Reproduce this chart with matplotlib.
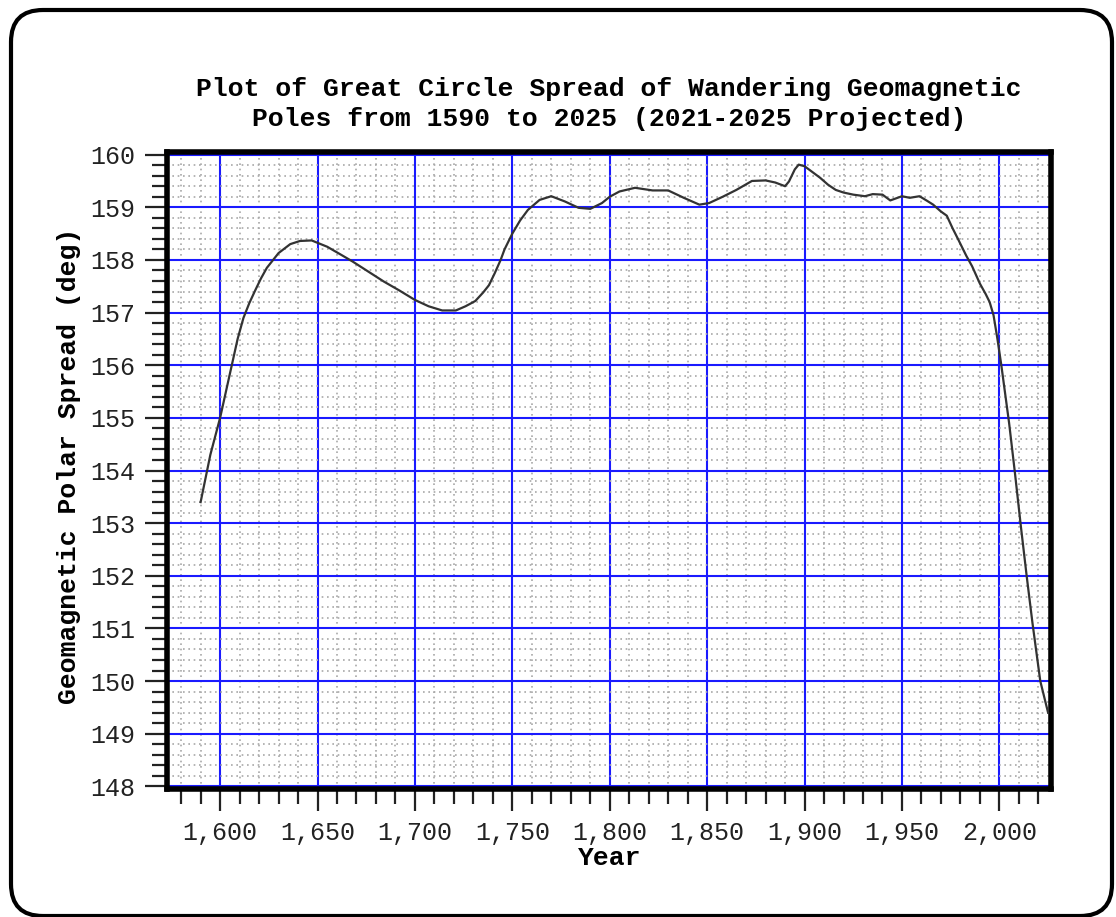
import matplotlib.pyplot as plt
import matplotlib.ticker as mticker
from matplotlib.patches import FancyBboxPatch
from matplotlib.transforms import IdentityTransform

# Datos (año, separacion en grados)
years = [1590, 1595, 1600, 1606, 1609, 1612, 1615, 1618, 1621, 1624,
         1630, 1636, 1641, 1647, 1655, 1662, 1668, 1676, 1684, 1692,
         1700, 1707, 1714, 1721, 1726, 1731, 1735, 1738, 1741, 1744,
         1746, 1750, 1754, 1758, 1764, 1770, 1777, 1784, 1790, 1796,
         1800, 1805, 1813, 1822, 1830, 1838, 1846, 1851, 1858, 1865,
         1873, 1880, 1885, 1890, 1892, 1895, 1897, 1900, 1904, 1908,
         1912, 1916, 1920, 1925, 1931, 1935, 1940, 1944, 1947, 1950,
         1954, 1959, 1963, 1966, 1970, 1973, 1976, 1979, 1983, 1986,
         1990, 1993, 1995, 1997, 1999, 2001, 2005, 2008, 2011, 2014,
         2017, 2021, 2025]
spread = [153.4, 154.3, 155.0, 156.0, 156.5, 156.9, 157.18, 157.42, 157.65, 157.85,
          158.13, 158.3, 158.36, 158.37, 158.25, 158.1, 157.97, 157.78, 157.59, 157.42,
          157.24, 157.12, 157.04, 157.04, 157.12, 157.22, 157.38, 157.52, 157.75, 158.0,
          158.2, 158.5, 158.75, 158.95, 159.14, 159.21, 159.11, 158.99, 158.97, 159.08,
          159.2, 159.3, 159.37, 159.32, 159.32, 159.18, 159.05, 159.08, 159.2, 159.33,
          159.5, 159.51, 159.47, 159.4, 159.49, 159.72, 159.81, 159.78, 159.67, 159.56,
          159.43, 159.33, 159.28, 159.24, 159.21, 159.25, 159.24, 159.13, 159.17, 159.21,
          159.18, 159.21, 159.12, 159.05, 158.92, 158.84, 158.6, 158.38, 158.08, 157.88,
          157.55, 157.35, 157.2, 156.95, 156.5, 156.0, 154.9, 153.95, 152.95, 152.0,
          151.1, 150.0, 149.4]

title = ("Plot of Great Circle Spread of Wandering Geomagnetic\n"
         "Poles from 1590 to 2025 (2021-2025 Projected)")

mono = "Liberation Mono"

fig = plt.figure(figsize=(11.16, 9.17), dpi=100)
ax = fig.add_axes([167.5 / 1116, 1 - 789 / 917, (1051 - 167.5) / 1116, (789 - 152) / 917])

# Curva
ax.plot(years, spread, color="#333333", lw=1.6, zorder=3)

# Ejes y rejilla
ax.set_xlim(1573, 2026.5)
ax.set_ylim(147.95, 160.05)
ax.xaxis.set_major_locator(mticker.MultipleLocator(50))
ax.xaxis.set_minor_locator(mticker.MultipleLocator(10))
ax.yaxis.set_major_locator(mticker.MultipleLocator(1))
ax.yaxis.set_minor_locator(mticker.MultipleLocator(0.2))
ax.xaxis.set_major_formatter(mticker.FuncFormatter(lambda v, p: f"{int(v):,}"))
ax.yaxis.set_major_formatter(mticker.FuncFormatter(lambda v, p: f"{int(round(v))}"))

ax.grid(which="minor", color="#a8a8a8", linestyle=(0, (1, 2.2)), lw=1.2, zorder=0)
ax.grid(which="major", color="#1a1aff", lw=1.5, zorder=1)
ax.set_axisbelow(True)

ax.tick_params(which="major", direction="out", length=16, width=1.6, color="#222222",
               pad=7, labelsize=18, labelcolor="#222222")
ax.tick_params(which="minor", direction="out", length=10.5, width=1.6, color="#222222")
for lab in ax.get_xticklabels() + ax.get_yticklabels():
    lab.set_family(mono)

for s in ax.spines.values():
    s.set_linewidth(4)
    s.set_color("black")

# Textos
fig.text(609 / 1116, 1 - 104 / 917, title, ha="center", va="center",
         family=mono, weight="bold", fontsize=19, linespacing=1.3)
ax.set_xlabel("Year", family=mono, weight="bold", fontsize=19, va="center")
ax.xaxis.set_label_coords(0.5, (789 - 858) / 637)
ax.set_ylabel("Geomagnetic Polar Spread (deg)", family=mono, weight="bold",
              fontsize=19, va="center")
ax.yaxis.set_label_coords((69 - 167.5) / 883.5, 0.508)

# Marco redondeado de la figura
border = FancyBboxPatch((11, 1), 1101, 906, boxstyle="round,pad=0,rounding_size=32",
                        transform=IdentityTransform(), fill=False, ec="black", lw=3)
fig.patches.append(border)

fig.savefig("out.png", dpi=100)
